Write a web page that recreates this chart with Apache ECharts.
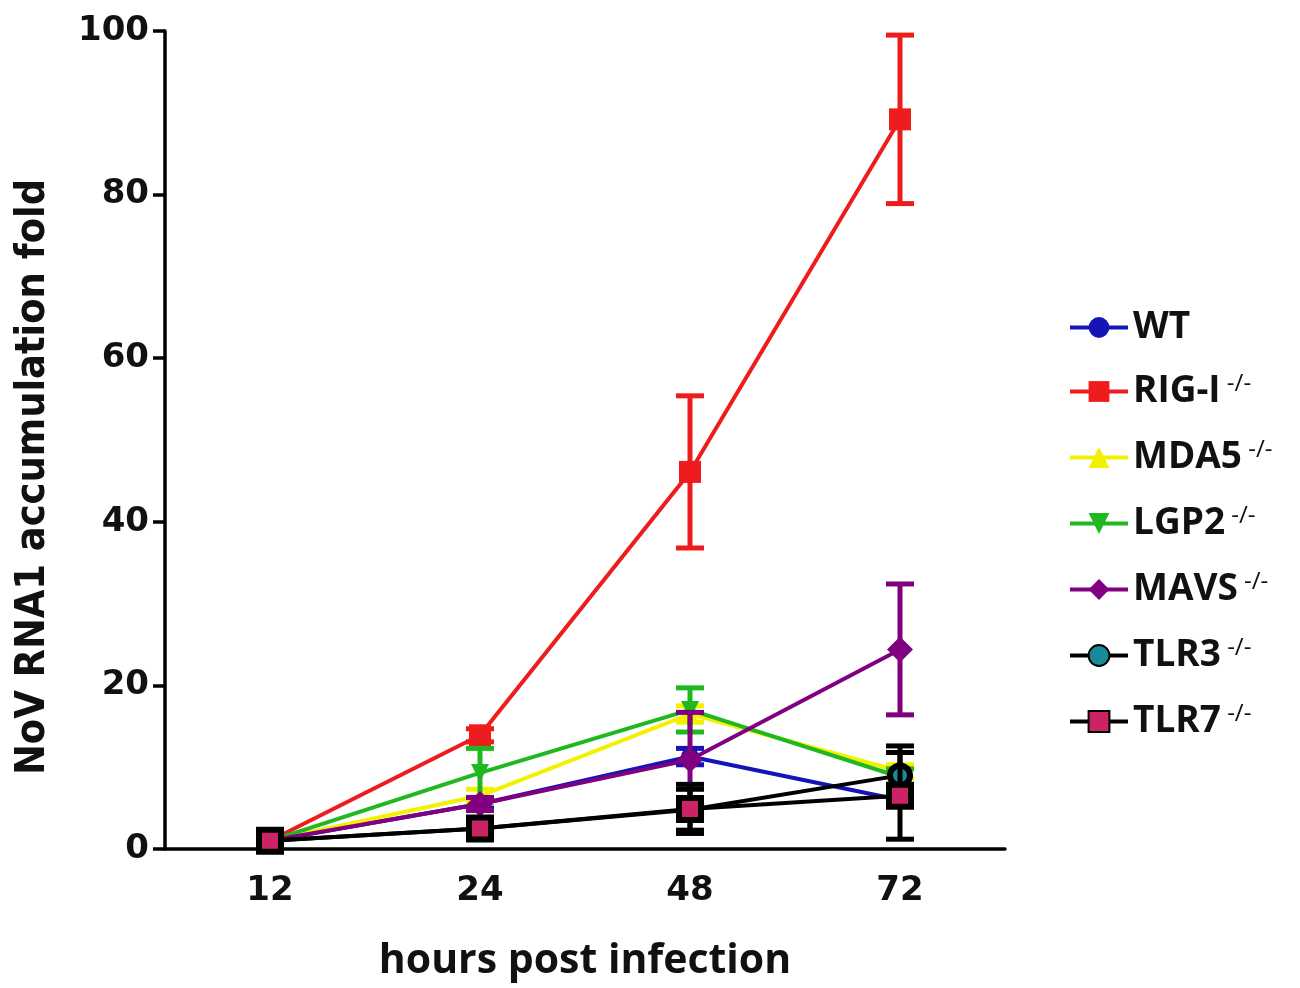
<!DOCTYPE html>
<html><head><meta charset="utf-8">
<script src="https://cdn.jsdelivr.net/npm/echarts@6/dist/echarts.min.js"></script>
<style>html,body{margin:0;padding:0;background:#fff}#c{width:1300px;height:988px}</style>
</head><body><div id="c"></div>
<script>
const categories = ['12', '24', '48', '72'];
const seriesNames = ['WT', 'RIG-I', 'MDA5', 'LGP2', 'MAVS', 'TLR3', 'TLR7'];
const wtMean   = [1, 5.5, 11.3, 6.0];
const wtErr    = [0, 0.5, 1.0, 0.8];
const rigMean  = [1, 13.9, 46.1, 89.2];
const rigErr   = [0, 0.8, 9.3, 10.3];
const mda5Mean = [1, 6.5, 16.5, 9.5];
const mda5Err  = [0, 0.8, 1.0, 0.8];
const lgp2Mean = [1, 9.3, 17.0, 8.8];
const lgp2Err  = [0, 3.0, 2.7, 1.0];
const mavsMean = [1, 5.5, 10.9, 24.4];
const mavsErr  = [0, 0.8, 5.8, 8.0];
const tlr3Mean = [1, 2.5, 4.8, 9.0];
const tlr3Err  = [0.3, 0.8, 2.5, 3.6];
const tlr7Mean = [1, 2.5, 4.9, 6.5];
const tlr7Err  = [0.3, 1.2, 3.0, 5.3];
const yTicks = [0, 20, 40, 60, 80, 100];

const means = [wtMean, rigMean, mda5Mean, lgp2Mean, mavsMean, tlr3Mean, tlr7Mean];
const errs  = [wtErr, rigErr, mda5Err, lgp2Err, mavsErr, tlr3Err, tlr7Err];
const styles = [
  {color:'#1414b8', symbol:'circle', size:18, fill:'#1414b8', border:'#1414b8', rot:0},
  {color:'#ee1c1c', symbol:'rect', size:22, fill:'#ee1c1c', border:'#ee1c1c', rot:0},
  {color:'#f2f200', symbol:'triangle', size:18, fill:'#f2f200', border:'#f2f200', rot:0},
  {color:'#1fb81f', symbol:'triangle', size:18, fill:'#1fb81f', border:'#1fb81f', rot:180},
  {color:'#800080', symbol:'diamond', size:26, fill:'#800080', border:'#800080', rot:0},
  {color:'#000000', symbol:'circle', size:20, fill:'#1a8a9a', border:'#000000', rot:0},
  {color:'#000000', symbol:'rect', size:22, fill:'#cc2266', border:'#000000', rot:0}
];

const chart = echarts.init(document.getElementById('c'));
const series = [];
seriesNames.forEach((name, i) => {
  const st = styles[i];
  series.push({
    name: name, type: 'line', data: means[i],
    symbol: st.symbol, symbolSize: st.size, symbolRotate: st.rot,
    showAllSymbol: true,
    lineStyle: {color: st.color, width: 4},
    itemStyle: {color: st.fill, borderColor: st.border, borderWidth: st.border === st.fill ? 0 : 6},
    z: 3 + i, animation: false
  });
  const errData = means[i].map((m, j) => [j, m - errs[i][j], m + errs[i][j]]);
  series.push({
    name: name, type: 'custom', data: errData, z: 3 + i, animation: false, silent: true,
    renderItem: function (params, api) {
      const x = api.value(0);
      const lo = api.coord([x, api.value(1)]);
      const hi = api.coord([x, api.value(2)]);
      const w = 14;
      const s = {stroke: st.color, lineWidth: 5};
      if (Math.abs(lo[1] - hi[1]) < 2) return {type: 'group', children: []};
      return {type: 'group', children: [
        {type: 'line', shape: {x1: lo[0], y1: lo[1], x2: hi[0], y2: hi[1]}, style: s},
        {type: 'line', shape: {x1: lo[0] - w, y1: lo[1], x2: lo[0] + w, y2: lo[1]}, style: s},
        {type: 'line', shape: {x1: hi[0] - w, y1: hi[1], x2: hi[0] + w, y2: hi[1]}, style: s}
      ]};
    }
  });
});

chart.setOption({
  backgroundColor: '#fff',
  animation: false,
  grid: {left: 165, right: 295, top: 31, bottom: 139, containLabel: false, outerBoundsMode: 'none'},
  legend: {
    data: seriesNames, orient: 'vertical', left: 1063, top: 304,
    itemWidth: 58, itemHeight: 26, itemGap: 26,
    lineStyle: {width: 4},
    textStyle: {
      rich: {
        n: {fontFamily: "'Open Sans', 'DejaVu Sans', sans-serif", fontWeight: 'bold', fontSize: 37, color: '#111', lineHeight: 39},
        s: {fontFamily: "'Open Sans', 'DejaVu Sans', sans-serif", fontWeight: 'normal', fontSize: 24, color: '#111', verticalAlign: 'top', lineHeight: 39, padding: [0,0,16,0]}
      }
    },
    formatter: function (n) { return n === 'WT' ? '{n|WT}' : '{n|' + n + '}{s| -/-}'; }
  },
  xAxis: {
    type: 'category', data: categories, boundaryGap: true,
    name: 'hours post infection', nameLocation: 'middle', nameGap: 92,
    nameTextStyle: {fontFamily: "'Open Sans', sans-serif", fontWeight: 'bold', fontSize: 41, color: '#111'},
    axisLine: {lineStyle: {color: '#000', width: 3.5}},
    axisTick: {alignWithLabel: true, length: 13, lineStyle: {color: '#000', width: 3.5}},
    axisLabel: {margin: 25, fontFamily: "'DejaVu Sans', sans-serif", fontWeight: 'bold', fontSize: 34, color: '#111'}
  },
  yAxis: {
    type: 'value', min: 0, max: 100, interval: 20,
    name: 'NoV RNA1 accumulation fold', nameLocation: 'middle', nameGap: 111, nameRotate: 90,
    nameTextStyle: {fontFamily: "'Liberation Sans Narrow', 'DejaVu Sans Condensed', sans-serif", fontWeight: 'bold', fontSize: 41, color: '#111', padding: [0, 74, 0, 0]},
    axisLine: {show: true, lineStyle: {color: '#000', width: 3.5}},
    axisTick: {show: true, length: 12, lineStyle: {color: '#000', width: 3.5}},
    splitLine: {show: false},
    axisLabel: {margin: 16, fontFamily: "'DejaVu Sans', sans-serif", fontWeight: 'bold', fontSize: 34, color: '#111',
      formatter: function (v) { return yTicks.indexOf(v) >= 0 ? String(v) : ''; }}
  },
  series: series
});
</script></body></html>
